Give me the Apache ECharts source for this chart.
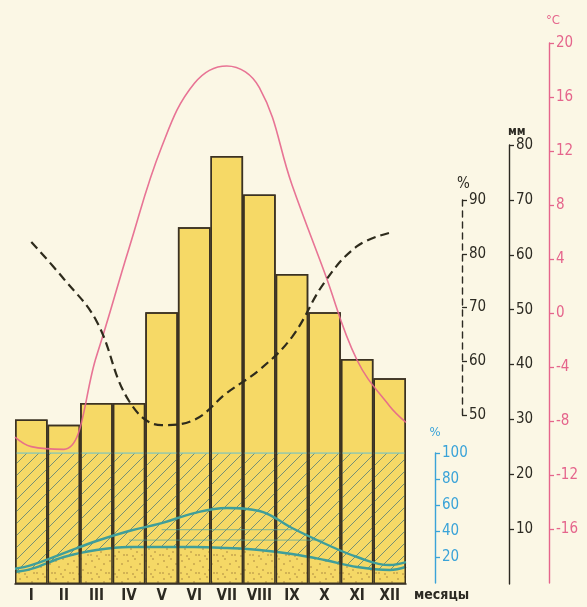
<!DOCTYPE html>
<html>
<head>
<meta charset="utf-8">
<script src="https://cdn.jsdelivr.net/npm/echarts@6/dist/echarts.min.js"></script>
<style>
html,body{margin:0;padding:0;background:#fbf7e5;}
#c{width:587px;height:607px;}
</style>
</head>
<body>
<div id="c"></div>
<script>
// ---- data ----
const months = ['I','II','III','IV','V','VI','VII','VIII','IX','X','XI','XII'];
const precipitation = [30, 29, 33, 33, 49.5, 65, 78, 71, 56.5, 49.5, 41, 37.5];   // мм
const temperature = [-9.9, -10.1, -3.2, 4.8, 12.3, 17.0, 18.3, 16.7, 9.5, 3.0, -3.5, -6.9]; // °C
const temperatureEdges = [-9.2, -8.1];
const humidity = [82.2, 75.3, 67.5, 52.6, 48.1, 49.1, 54.1, 58.4, 64.5, 74.7, 81.4, 83.9]; // %
const cloudTotal = [13.8, 23, 32.3, 40, 46, 53.8, 57.7, 55.4, 42.3, 30.4, 20, 13.8]; // %
const cloudTotalEdges = [11, 16];
const cloudLow = [10.8, 20, 25.4, 27.7, 27.7, 27.7, 26.9, 25.4, 22.3, 17.7, 12.3, 10]; // %
const cloudLowEdges = [8.5, 12.5];
const cloudMeanUpper = [null, null, null, null, 41, 41, 41, 41, 41, null, null, null];
const cloudMeanLower = [null, null, null, 33, 33, 33, 33, 33, 33, 33, null, null];
const cloudFull = [100, 100];
const mmTicks = [10, 20, 30, 40, 50, 60, 70, 80];
const tempTicks = [-16, -12, -8, -4, 0, 4, 8, 12, 16, 20];
const humTicks = [50, 60, 70, 80, 90];
const cloudTicks = [20, 40, 60, 80, 100];

// ---- helpers ----
function toXY(vals, edges) {
  const out = [];
  if (edges) out.push([0, edges[0]]);
  vals.forEach((v, i) => { if (v !== null) out.push([i + 0.5, v]); });
  if (edges) out.push([months.length, edges[1]]);
  return out;
}
function hatchPattern() {
  const s = 12, c = document.createElement('canvas');
  c.width = s; c.height = s;
  const g = c.getContext('2d');
  g.strokeStyle = 'rgba(95,130,118,0.85)';
  g.lineWidth = 1;
  g.beginPath();
  g.moveTo(-1, s + 1); g.lineTo(s + 1, -1);
  g.moveTo(-1, 1); g.lineTo(1, -1);
  g.moveTo(s - 1, s + 1); g.lineTo(s + 1, s - 1);
  g.stroke();
  return c;
}
function dotPattern() {
  const s = 18, c = document.createElement('canvas');
  c.width = s; c.height = s;
  const g = c.getContext('2d');
  g.fillStyle = '#f5d866';
  g.fillRect(0, 0, s, s);
  g.fillStyle = 'rgba(150,115,55,0.85)';
  const pts = [[2,3],[9,1],[14,6],[5,9],[11,12],[1,15],[16,15],[7,16]];
  pts.forEach(p => { g.beginPath(); g.arc(p[0], p[1], 0.8, 0, Math.PI * 2); g.fill(); });
  return c;
}

const FONT = '"Liberation Sans Narrow", "DejaVu Sans Condensed", "Roboto", sans-serif';
const PINK = '#e5658c';
const BLUE = '#3aa3d8';
const DARK = '#2c2a22';
const TEAL = '#3f9e9a';

const L = 15, R = 181;
const grids = [
  { left: L, right: R, top: 145, bottom: 23 },  // bars (мм)
  { left: L, right: R, top: 43, bottom: 24 },   // temperature
  { left: L, right: R, top: 200, bottom: 192 }, // humidity
  { left: L, right: R, top: 453, bottom: 24 }   // cloudiness
];
function hiddenX(gi) {
  return { type: 'value', gridIndex: gi, min: 0, max: 12, show: false };
}
function yAx(gi, color, lineType, ticks, opts) {
  return Object.assign({
    type: 'value', gridIndex: gi, position: 'right',
    splitLine: { show: false },
    axisLine: { show: true, onZero: false, lineStyle: { color: color, width: 1.4, type: lineType } },
    axisTick: { show: true, length: 5, customValues: ticks, lineStyle: { color: color, width: 1.3 } },
    axisLabel: { margin: 7, fontFamily: FONT, fontSize: 15, color: color, customValues: ticks }
  }, opts);
}

const option = {
  backgroundColor: '#fbf7e5',
  animation: false,
  grid: grids,
  xAxis: [
    { type: 'category', gridIndex: 0, data: months,
      axisLine: { show: true, lineStyle: { color: DARK, width: 1.5 } },
      axisTick: { show: false },
      axisLabel: { interval: 0, margin: 5, fontFamily: FONT, fontSize: 15, fontWeight: 'bold', color: DARK } },
    hiddenX(1), hiddenX(2), hiddenX(3)
  ],
  yAxis: [
    yAx(0, DARK, 'solid', mmTicks, { min: 0, max: 80, offset: 103, name: 'мм', nameLocation: 'end', nameGap: 6,
      nameTextStyle: { fontFamily: FONT, fontSize: 12, fontWeight: 'bold', color: DARK, align: 'left', padding: [0, 0, 0, -1] } }),
    yAx(1, PINK, 'solid', tempTicks, { min: -20, max: 20, offset: 143, name: '°C', nameLocation: 'end', nameGap: 16,
      nameTextStyle: { fontFamily: FONT, fontSize: 13, color: PINK, align: 'left', padding: [0, 0, 0, -3] } }),
    yAx(2, DARK, [6, 5], humTicks, { min: 50, max: 90, offset: 56, name: '%', nameLocation: 'end', nameGap: 8,
      nameTextStyle: { fontFamily: FONT, fontSize: 15, color: DARK, align: 'left', padding: [0, 0, 0, -5] } }),
    yAx(3, BLUE, 'solid', cloudTicks, { min: 0, max: 100, offset: 29, name: '%', nameLocation: 'end', nameGap: 14,
      nameTextStyle: { fontFamily: FONT, fontSize: 13, color: BLUE, align: 'center' } })
  ],
  series: [
    { name: 'Осадки', type: 'bar', xAxisIndex: 0, yAxisIndex: 0, data: precipitation,
      barCategoryGap: '0%', barGap: '-100%', z: 1,
      itemStyle: { color: '#f6d966', borderColor: '#3b3222', borderWidth: 1.5 } },
    { name: 'Облачность 100%', type: 'line', xAxisIndex: 3, yAxisIndex: 3,
      data: [[0, cloudFull[0]], [months.length, cloudFull[1]]], symbol: 'none', z: 2,
      lineStyle: { color: '#86c6b6', width: 1.5 },
      areaStyle: { color: { image: hatchPattern(), repeat: 'repeat' }, opacity: 1 } },
    { name: 'Облачность нижняя', type: 'line', xAxisIndex: 3, yAxisIndex: 3,
      data: toXY(cloudLow, cloudLowEdges), smooth: 0.4, symbol: 'none', z: 3,
      lineStyle: { color: TEAL, width: 2.4 },
      areaStyle: { color: { image: dotPattern(), repeat: 'repeat' }, opacity: 1 } },
    { name: 'Осадки контур', type: 'bar', xAxisIndex: 0, yAxisIndex: 0, data: precipitation,
      barCategoryGap: '0%', barGap: '-100%', z: 4,
      itemStyle: { color: 'rgba(0,0,0,0)', borderColor: '#3b3222', borderWidth: 1.5 } },
    { name: 'Средняя 1', type: 'line', xAxisIndex: 3, yAxisIndex: 3,
      data: toXY(cloudMeanUpper), symbol: 'none', z: 5,
      lineStyle: { color: 'rgba(70,160,160,0.55)', width: 1.2 } },
    { name: 'Средняя 2', type: 'line', xAxisIndex: 3, yAxisIndex: 3,
      data: toXY(cloudMeanLower), symbol: 'none', z: 5,
      lineStyle: { color: 'rgba(70,160,160,0.55)', width: 1.2 } },
    { name: 'Облачность общая', type: 'line', xAxisIndex: 3, yAxisIndex: 3,
      data: toXY(cloudTotal, cloudTotalEdges), smooth: 0.4, symbol: 'none', z: 6,
      lineStyle: { color: TEAL, width: 2.4 } },
    { name: 'Температура', type: 'line', xAxisIndex: 1, yAxisIndex: 1,
      data: toXY(temperature, temperatureEdges), smooth: 0.4, symbol: 'none', z: 7, clip: false,
      lineStyle: { color: PINK, width: 1.6, opacity: 0.9 } },
    { name: 'Влажность', type: 'line', xAxisIndex: 2, yAxisIndex: 2,
      data: toXY(humidity), smooth: 0.4, symbol: 'none', z: 8, clip: false,
      lineStyle: { color: '#2e2b1c', width: 2.2, type: [9, 5] } }
  ],
  graphic: [
    { type: 'text', left: 414, top: 588, z: 10,
      style: { text: 'месяцы', font: 'bold 14px ' + FONT, fill: DARK } }
  ]
};

const chart = echarts.init(document.getElementById('c'), null, { renderer: 'canvas' });
chart.setOption(option);
</script>
</body>
</html>
